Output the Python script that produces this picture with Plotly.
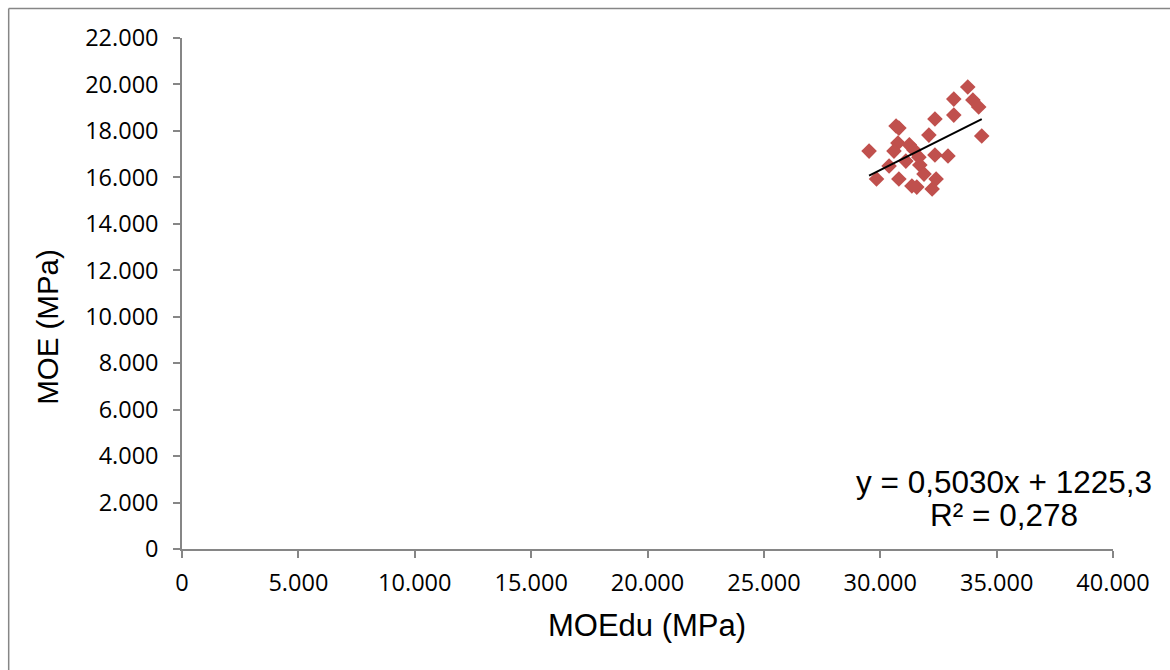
import plotly.graph_objects as go

# MOEdu (x) and MOE (y) measurements, MPa
moe_du = [29520, 29840, 30680, 30800, 30760, 30590, 30380, 30800, 31250, 31450,
          31660, 31700, 31880, 31360, 31570, 32090, 32350, 32350, 32910, 32400,
          32230, 33160, 33160, 33760, 33980, 34230, 34360, 31100]
moe = [17130, 15930, 18210, 18120, 17480, 17130, 16490, 15930, 17400, 17180,
       16870, 16530, 16140, 15630, 15580, 17820, 18510, 16960, 16920, 15930,
       15500, 18680, 19370, 19890, 19330, 19030, 17780, 16700]

# Linear trend reported on the chart
slope = 0.5030
intercept = 1225.3
r_squared = "0,278"

x_ticks = [0, 5000, 10000, 15000, 20000, 25000, 30000, 35000, 40000]
x_tick_text = ["0", "5.000", "10.000", "15.000", "20.000", "25.000", "30.000", "35.000", "40.000"]
y_ticks = [0, 2000, 4000, 6000, 8000, 10000, 12000, 14000, 16000, 18000, 20000, 22000]
y_tick_text = ["0", "2.000", "4.000", "6.000", "8.000", "10.000", "12.000", "14.000",
               "16.000", "18.000", "20.000", "22.000"]

W, H = 1170, 670
L, R, T, B = 181.5, 1113.5, 37.5, 549.0


def px(xpix):
    return (xpix - L) / (R - L)


def py(ypix):
    return (B - ypix) / (B - T)


x_min, x_max = min(moe_du), max(moe_du)
trend_x = [x_min, x_max]
trend_y = [slope * v + intercept for v in trend_x]

fig = go.Figure()
fig.add_trace(go.Scatter(
    x=moe_du, y=moe, mode="markers",
    marker=dict(symbol="diamond", size=12, color="#C0504D", line=dict(width=0)),
    showlegend=False, hoverinfo="x+y",
))
fig.add_trace(go.Scatter(
    x=trend_x, y=trend_y, mode="lines",
    line=dict(color="black", width=2),
    showlegend=False, hoverinfo="skip",
))

axis_gray = "#868686"
tick_font = dict(family="Open Sans, sans-serif", size=23.5, color="black")

fig.update_xaxes(
    range=[0, 40000], tickvals=x_ticks, ticktext=x_tick_text,
    showgrid=False, zeroline=False, showline=True, linecolor=axis_gray, linewidth=1.5,
    ticks="outside", ticklen=7, tickwidth=1.5, tickcolor=axis_gray,
    tickfont=tick_font, ticklabelstandoff=5,
)
fig.update_yaxes(
    range=[0, 22000], tickvals=y_ticks, ticktext=y_tick_text,
    showgrid=False, zeroline=False, showline=True, linecolor=axis_gray, linewidth=1.5,
    ticks="outside", ticklen=7, tickwidth=1.5, tickcolor=axis_gray,
    tickfont=tick_font, ticklabelstandoff=10,
)

x_title_font = dict(family="Liberation Sans, Arial, sans-serif", size=31, color="black")
y_title_font = dict(family="Liberation Sans, Arial, sans-serif", size=29.5, color="black")
eq_font = dict(family="Liberation Sans, Arial, sans-serif", size=31.5, color="black")

fig.update_layout(
    width=W, height=H,
    margin=dict(l=L, r=W - R, t=T, b=H - B),
    paper_bgcolor="white", plot_bgcolor="white",
    annotations=[
        dict(text="MOEdu (MPa)", xref="paper", yref="paper", x=px(647), y=py(626),
             showarrow=False, font=x_title_font, xanchor="center", yanchor="middle"),
        dict(text="MOE (MPa)", xref="paper", yref="paper", x=px(47), y=py(327),
             showarrow=False, font=y_title_font, textangle=-90,
             xanchor="center", yanchor="middle"),
        dict(text=f"y = {str(slope).replace('.', ',')}0x + {str(intercept).replace('.', ',')}",
             xref="paper", yref="paper", x=px(1004), y=py(482),
             showarrow=False, font=eq_font, xanchor="center", yanchor="middle"),
        dict(text=f"R² = {r_squared}", xref="paper", yref="paper", x=px(1004), y=py(515),
             showarrow=False, font=eq_font, xanchor="center", yanchor="middle"),
    ],
    shapes=[
        dict(type="line", xref="paper", yref="paper", x0=px(8), x1=px(8), y0=py(8), y1=py(700),
             line=dict(color=axis_gray, width=1.5)),
        dict(type="line", xref="paper", yref="paper", x0=px(8), x1=px(1200), y0=py(8), y1=py(8),
             line=dict(color=axis_gray, width=1.5)),
    ],
)

fig.write_html("out.html")
